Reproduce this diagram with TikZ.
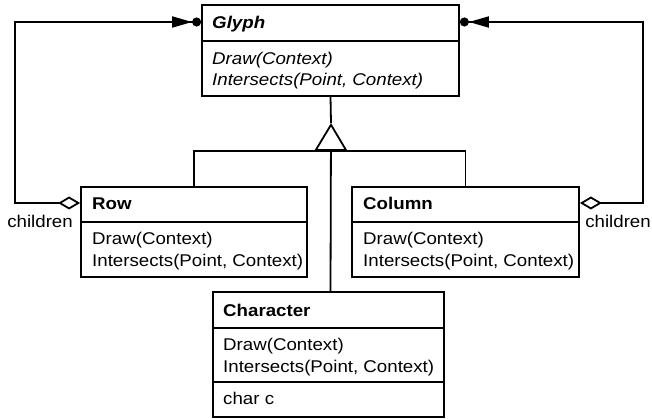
\documentclass[tikz,border=0pt]{standalone}
\usepackage{fontspec}
\setmainfont{Liberation Sans}[FakeStretch=1.1]
\usepackage{tikz}
\usetikzlibrary{arrows.meta,positioning}

\tikzset{
    umlclass/.style={draw, line width=1.8pt, inner sep=0pt},
    txt/.style={anchor=base west, inner sep=0pt, font=\fontsize{17}{22}\selectfont},
    agg/.style={line width=1.8pt,
        {Diamond[open,length=22pt,width=13pt]}-{Triangle[length=20pt,width=11pt]Circle[length=9pt]}},
    inh/.style={line width=1.8pt}
}

\begin{document}
\begin{tikzpicture}[x=1pt,y=-1pt]
    \useasboundingbox (0,0) rectangle (652,419);

    % Glyph (abstract)
    \node[umlclass, minimum width=257pt, minimum height=91pt] (glyph) at (330.5,50.5) {};
    \draw[line width=1.8pt] (glyph.west |- 0,41) -- (glyph.east |- 0,41);
    \node[txt] (glyphname) at (212,29) {\textbf{\textit{Glyph}}};
    \node[txt] (glyphdraw) at (212,65) {\textit{Draw(Context)}};
    \node[txt] (glyphhit) at (212,86) {\textit{Intersects(Point, Context)}};

    % Row
    \node[umlclass, minimum width=226pt, minimum height=90pt] (row) at (194,232) {};
    \draw[line width=1.8pt] (row.west |- 0,222) -- (row.east |- 0,222);
    \node[txt] (rowname) at (92,210) {\textbf{Row}};
    \node[txt] (rowdraw) at (92,244) {Draw(Context)};
    \node[txt] (rowhit) at (92,266) {Intersects(Point, Context)};

    % Column
    \node[umlclass, minimum width=227pt, minimum height=90pt] (column) at (465.5,232) {};
    \draw[line width=1.8pt] (column.west |- 0,222) -- (column.east |- 0,222);
    \node[txt] (colname) at (363,210) {\textbf{Column}};
    \node[txt] (coldraw) at (363,244) {Draw(Context)};
    \node[txt] (colhit) at (363,266) {Intersects(Point, Context)};

    % Character
    \node[umlclass, minimum width=231pt, minimum height=125pt] (character) at (328.5,354.5) {};
    \draw[line width=1.8pt] (character.west |- 0,328) -- (character.east |- 0,328);
    \draw[line width=1.8pt] (character.west |- 0,382) -- (character.east |- 0,382);
    \node[txt] (charname) at (223,316) {\textbf{Character}};
    \node[txt] (chardraw) at (223,350) {Draw(Context)};
    \node[txt] (charhit) at (223,372) {Intersects(Point, Context)};
    \node[txt] (charattr) at (223,404) {char c};

    % inheritance
    \coordinate (apex) at (331,123);
    \coordinate (base) at (331,151);
    \draw[inh] (glyph.south) -- (apex);
    \draw[inh, -{Triangle[open,length=28pt,width=33pt]}] (glyph.south |- character.north) -- (apex);
    \draw[inh] (row.north) |- (base) -| (column.north);

    % children aggregations
    \coordinate (lcorner) at (15,22);
    \coordinate (rcorner) at (643,22);
    \draw[agg] (row.west |- 0,203) -| (lcorner) -- (glyph.west |- lcorner);
    \draw[agg] (column.east |- 0,203) -| (rcorner) -- (glyph.east |- rcorner);
    \node[txt, anchor=base east] (kidsleft) at (73,228) {children};
    \node[txt, anchor=base east] (kidsright) at (651,228) {children};
\end{tikzpicture}
\end{document}
